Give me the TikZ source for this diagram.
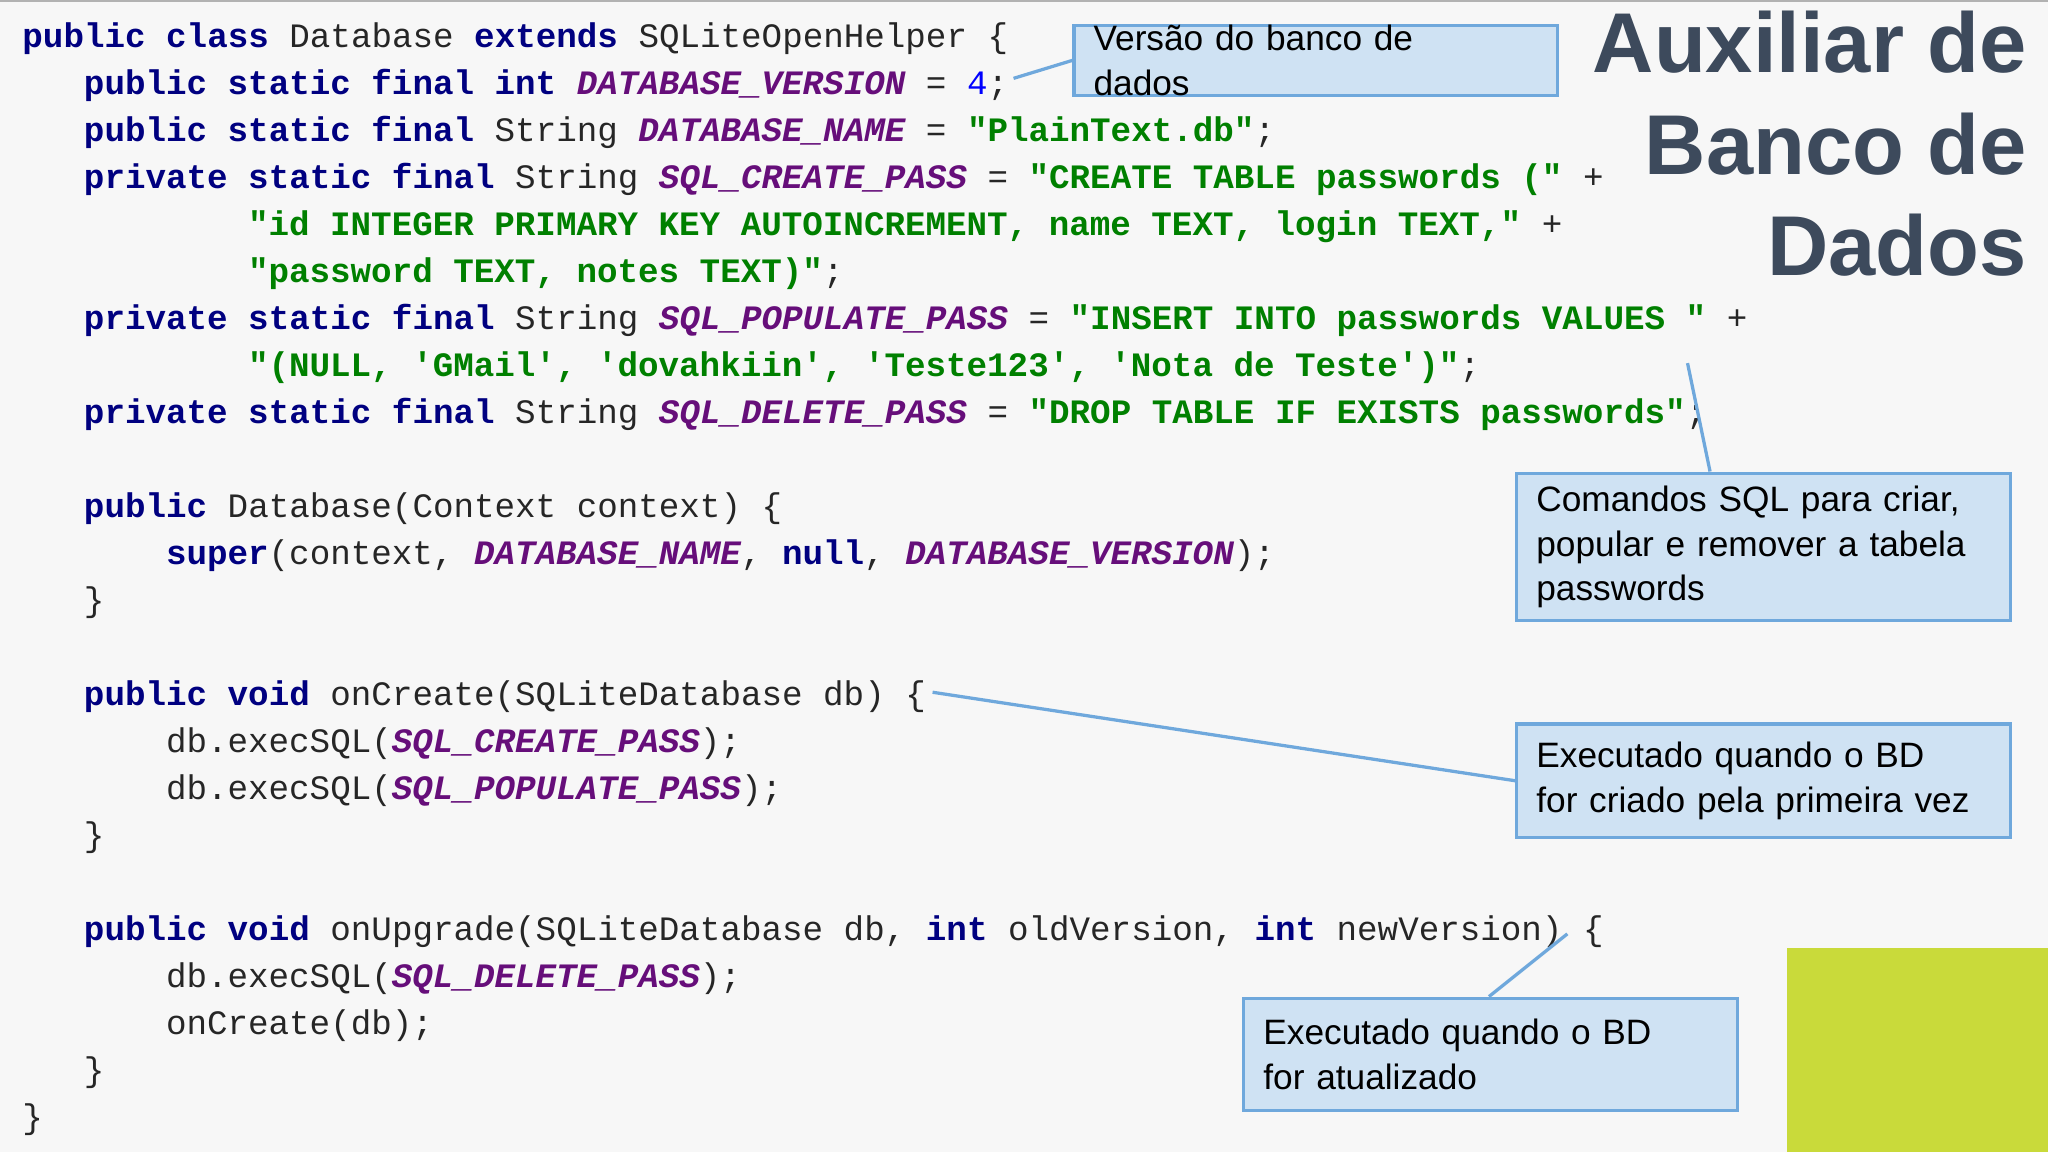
\documentclass[tikz,border=0pt]{standalone}
\usepackage{fontspec}
\setmainfont{Liberation Sans}
\newfontfamily\codefont{Liberation Mono}
\definecolor{kwc}{HTML}{000080}
\definecolor{strc}{HTML}{008000}
\definecolor{cstc}{HTML}{660E7A}
\definecolor{numc}{HTML}{0000FF}
\definecolor{boxfill}{HTML}{CFE2F3}
\definecolor{boxline}{HTML}{6FA8DC}
\definecolor{titlec}{HTML}{3D4A5C}
\definecolor{limec}{HTML}{C9DA3A}
\newcommand{\kw}[1]{\textbf{\color{kwc}#1}}
\newcommand{\str}[1]{\textbf{\color{strc}#1}}
\newcommand{\cst}[1]{\textbf{\textit{\color{cstc}#1}}}
\newcommand{\num}[1]{{\color{numc}#1}}
\begin{document}
\begin{tikzpicture}[x=1pt,y=1pt,
  codeline/.style={anchor=base west,inner sep=0pt,font=\codefont\fontsize{26.2}{30}\selectfont,text=black!85},
  callout/.style={draw=boxline,line width=2.5pt,fill=boxfill,anchor=north west,align=left,inner xsep=15pt,inner ysep=0pt,font=\fontsize{27}{34}\selectfont},
  link/.style={draw=boxline,line width=2.5pt}]
\fill[black!3] (0,0) rectangle (1568,-882);
\useasboundingbox (0,0) rectangle (1568,-882);
\draw[black!30,line width=3pt] (0,0) -- (1568,0);
\fill[limec] (1368,-726) rectangle (1568,-882);
\def\cw{15.7}
\newcommand{\cl}[4]{\node[codeline] (#1) at ({17+#2*\cw},{-(#3+8)}) {#4};}
\cl{l1}{0}{28}{\kw{public class} Database \kw{extends} SQLiteOpenHelper \{}
\cl{l2}{3}{64}{\kw{public static final int} \cst{DATABASE\_VERSION} = \num{4};}
\cl{l3}{3}{100}{\kw{public static final} String \cst{DATABASE\_NAME} = \str{"PlainText.db"};}
\cl{l4}{3}{136}{\kw{private static final} String \cst{SQL\_CREATE\_PASS} = \str{"CREATE TABLE passwords ("} +}
\cl{l5}{11}{172}{\str{"id INTEGER PRIMARY KEY AUTOINCREMENT, name TEXT, login TEXT,"} +}
\cl{l6}{11}{208}{\str{"password TEXT, notes TEXT)"};}
\cl{l7}{3}{244}{\kw{private static final} String \cst{SQL\_POPULATE\_PASS} = \str{"INSERT INTO passwords VALUES "} +}
\cl{l8}{11}{280}{\str{"(NULL, 'GMail', 'dovahkiin', 'Teste123', 'Nota de Teste')"};}
\cl{l9}{3}{316}{\kw{private static final} String \cst{SQL\_DELETE\_PASS} = \str{"DROP TABLE IF EXISTS passwords"};}
\cl{l10}{3}{388}{\kw{public} Database(Context context) \{}
\cl{l11}{7}{424}{\kw{super}(context, \cst{DATABASE\_NAME}, \kw{null}, \cst{DATABASE\_VERSION});}
\cl{l12}{3}{460}{\}}
\cl{l13}{3}{532}{\kw{public void} onCreate(SQLiteDatabase db) \{}
\cl{l14}{7}{568}{db.execSQL(\cst{SQL\_CREATE\_PASS});}
\cl{l15}{7}{604}{db.execSQL(\cst{SQL\_POPULATE\_PASS});}
\cl{l16}{3}{640}{\}}
\cl{l17}{3}{712}{\kw{public void} onUpgrade(SQLiteDatabase db, \kw{int} oldVersion, \kw{int} newVersion) \{}
\cl{l18}{7}{748}{db.execSQL(\cst{SQL\_DELETE\_PASS});}
\cl{l19}{7}{784}{onCreate(db);}
\cl{l20}{3}{820}{\}}
\cl{l21}{0}{856}{\}}
% title
\node[anchor=north east,align=right,inner sep=0pt,text=titlec,font=\bfseries\fontsize{65}{78}\selectfont] (title) at (1552,-8) {Auxiliar de\\Banco de\\Dados};
% callouts
\node[callout,text width=340pt,minimum height=54pt] (b1) at (821,-18) {Versão do banco de\\dados};
\node[callout,text width=348pt,minimum height=113pt] (b2) at (1160,-361) {Comandos SQL para criar,\\popular e remover a tabela\\passwords};
\node[callout,text width=348pt,minimum height=87pt] (b3) at (1160,-553) {Executado quando o BD\\for criado pela primeira vez};
\node[callout,text width=348pt,minimum height=86pt] (b4) at (951,-763) {Executado quando o BD\\for atualizado};
\coordinate (e1) at (776,-60);
\coordinate (e2) at (1292,-278);
\coordinate (e3) at (714,-530);
\coordinate (e4) at (1200,-715);
\draw[link] (b1.west) -- (e1);
\draw[link] (b2.north) ++(-41,0) coordinate (s2) -- (e2);
\draw[link] (b3.west) -- (e3);
\draw[link] (b4.north) ++(0,0) coordinate (s4);
\draw[link] ([xshift=0pt]b4.north -| 1140,0) -- (e4);
\end{tikzpicture}
\end{document}
